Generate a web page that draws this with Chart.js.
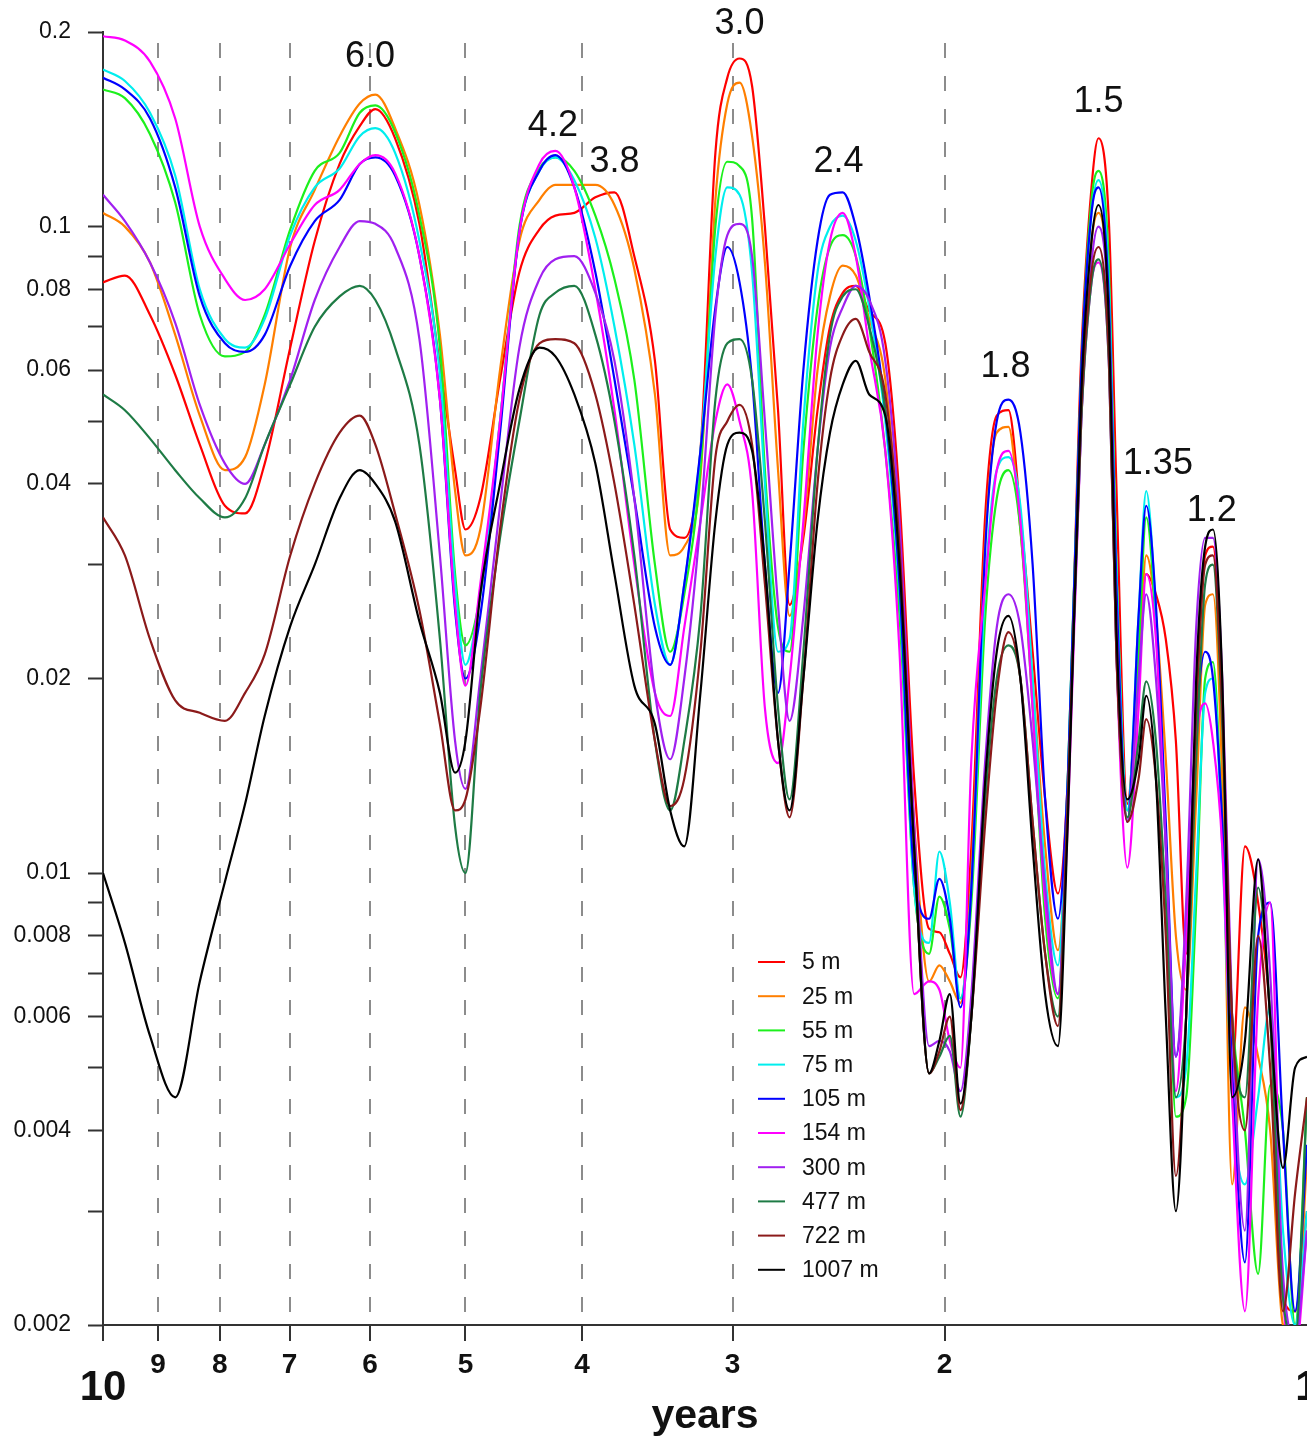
<!DOCTYPE html>
<html>
<head>
<meta charset="utf-8">
<title>Spectra by depth</title>
<script src="https://cdn.jsdelivr.net/npm/chart.js@4.4.1/dist/chart.umd.min.js"></script>
<style>
  html, body { margin: 0; padding: 0; background: #fff; }
  #wrap { width: 1307px; height: 1440px; }
</style>
</head>
<body>
<div id="wrap"><canvas id="spectra"></canvas></div>
<script>
// period (years) at which each depth's spectrum is sampled
const periods = [10, 9.59, 9.14, 8.71, 8.31, 7.92, 7.62, 7.34, 6.99, 6.67,
  6.36, 6.12, 5.94, 5.72, 5.46, 5.25, 5.10, 5.0, 4.86, 4.68,
  4.51, 4.34, 4.21, 4.06, 3.90, 3.76, 3.62, 3.48, 3.38, 3.29,
  3.19, 3.10, 3.03, 2.96, 2.89, 2.82, 2.75, 2.69, 2.62, 2.55,
  2.49, 2.43, 2.37, 2.31, 2.24, 2.18, 2.12, 2.06, 2.02, 1.98,
  1.94, 1.90, 1.85, 1.81, 1.77, 1.73, 1.69, 1.65, 1.61, 1.58,
  1.54, 1.51, 1.49, 1.46, 1.44, 1.41, 1.38, 1.36, 1.335, 1.31,
  1.285, 1.26, 1.236, 1.215, 1.197, 1.176, 1.154, 1.126, 1.098, 1.073,
  1.047, 1.023, 1.0];

const depthLabels = ['5 m', '25 m', '55 m', '75 m', '105 m', '154 m', '300 m', '477 m', '722 m', '1007 m'];
const depthColors = ['#ff0000', '#ff7f00', '#1cf01c', '#00eeee', '#0000ff', '#ff00ff', '#a020f0', '#1e7b45', '#8b1a1a', '#000000'];

const depth5 = [0.082, 0.084, 0.073, 0.059, 0.046, 0.037, 0.036, 0.043, 0.065, 0.095,
  0.125, 0.143, 0.152, 0.137, 0.101, 0.061, 0.042, 0.034, 0.038, 0.058,
  0.085, 0.099, 0.104, 0.105, 0.111, 0.113, 0.09, 0.062, 0.034, 0.033,
  0.045, 0.13, 0.17, 0.182, 0.165, 0.1, 0.052, 0.026, 0.033, 0.052,
  0.07, 0.079, 0.081, 0.074, 0.066, 0.038, 0.014, 0.0082, 0.0081, 0.0075,
  0.0069, 0.011, 0.036, 0.051, 0.052, 0.036, 0.022, 0.013, 0.0093, 0.014,
  0.063, 0.115, 0.137, 0.1, 0.04, 0.0128, 0.022, 0.029, 0.027, 0.023,
  0.016, 0.0075, 0.018, 0.031, 0.032, 0.018, 0.005, 0.011, 0.009, 0.006,
  0.0022, 0.0021, 0.003];

const depth25 = [0.105, 0.1, 0.088, 0.068, 0.051, 0.042, 0.044, 0.057, 0.093, 0.114,
  0.138, 0.155, 0.16, 0.142, 0.108, 0.068, 0.039, 0.031, 0.034, 0.06,
  0.095, 0.11, 0.116, 0.116, 0.116, 0.108, 0.086, 0.055, 0.031, 0.032,
  0.041, 0.11, 0.155, 0.167, 0.138, 0.088, 0.042, 0.025, 0.034, 0.06,
  0.078, 0.087, 0.084, 0.072, 0.058, 0.032, 0.012, 0.0068, 0.0072, 0.0068,
  0.0063, 0.01, 0.033, 0.048, 0.049, 0.034, 0.02, 0.011, 0.0076, 0.013,
  0.055, 0.095, 0.105, 0.075, 0.03, 0.012, 0.02, 0.031, 0.025, 0.015,
  0.008, 0.0066, 0.013, 0.026, 0.027, 0.014, 0.0033, 0.0062, 0.0052, 0.004,
  0.002, 0.0019, 0.0036];

const depth55 = [0.163, 0.158, 0.139, 0.109, 0.073, 0.063, 0.064, 0.073, 0.099, 0.122,
  0.13, 0.15, 0.154, 0.14, 0.104, 0.065, 0.029, 0.0225, 0.027, 0.05,
  0.1, 0.123, 0.128, 0.122, 0.104, 0.083, 0.058, 0.03, 0.022, 0.027,
  0.042, 0.1, 0.126, 0.124, 0.103, 0.042, 0.024, 0.022, 0.045, 0.075,
  0.093, 0.097, 0.09, 0.07, 0.045, 0.025, 0.0095, 0.0075, 0.0092, 0.0082,
  0.0064, 0.009, 0.025, 0.038, 0.042, 0.034, 0.018, 0.0085, 0.0064, 0.014,
  0.06, 0.11, 0.122, 0.085, 0.03, 0.0125, 0.022, 0.0355, 0.024, 0.011,
  0.0042, 0.0045, 0.009, 0.02, 0.0212, 0.012, 0.006, 0.004, 0.0024, 0.0047,
  0.004, 0.002, 0.0045];

const depth75 = [0.175, 0.168, 0.15, 0.12, 0.08, 0.067, 0.065, 0.072, 0.097, 0.115,
  0.123, 0.138, 0.142, 0.13, 0.095, 0.059, 0.028, 0.021, 0.027, 0.05,
  0.098, 0.122, 0.128, 0.118, 0.096, 0.07, 0.046, 0.026, 0.021, 0.028,
  0.045, 0.09, 0.115, 0.112, 0.085, 0.04, 0.022, 0.023, 0.05, 0.085,
  0.1, 0.104, 0.095, 0.075, 0.05, 0.027, 0.0095, 0.0078, 0.0108, 0.009,
  0.0064, 0.0095, 0.028, 0.042, 0.044, 0.037, 0.02, 0.01, 0.0072, 0.014,
  0.058, 0.105, 0.118, 0.08, 0.03, 0.0125, 0.025, 0.039, 0.025, 0.011,
  0.0045, 0.005, 0.01, 0.019, 0.02, 0.011, 0.0045, 0.0033, 0.0045, 0.0062,
  0.0028, 0.002, 0.003];

const depth105 = [0.17, 0.163, 0.147, 0.115, 0.078, 0.066, 0.064, 0.068, 0.087, 0.102,
  0.11, 0.125, 0.128, 0.12, 0.09, 0.054, 0.0255, 0.02, 0.025, 0.048,
  0.098, 0.122, 0.129, 0.115, 0.085, 0.058, 0.038, 0.024, 0.021, 0.028,
  0.045, 0.075, 0.093, 0.082, 0.058, 0.03, 0.019, 0.03, 0.06, 0.095,
  0.112, 0.113, 0.1, 0.078, 0.052, 0.028, 0.01, 0.0085, 0.0098, 0.0085,
  0.0062, 0.0095, 0.032, 0.05, 0.054, 0.048, 0.03, 0.013, 0.0085, 0.014,
  0.06, 0.105, 0.115, 0.075, 0.028, 0.012, 0.025, 0.037, 0.026, 0.012,
  0.0052, 0.008, 0.017, 0.022, 0.02, 0.012, 0.005, 0.0025, 0.008, 0.009,
  0.004, 0.0021, 0.0038];

const depth154 = [0.197, 0.194, 0.18, 0.147, 0.1, 0.083, 0.077, 0.08, 0.094, 0.108,
  0.114, 0.125, 0.129, 0.121, 0.09, 0.054, 0.026, 0.0195, 0.028, 0.05,
  0.098, 0.125, 0.131, 0.115, 0.08, 0.052, 0.03, 0.019, 0.0175, 0.024,
  0.035, 0.05, 0.057, 0.05, 0.039, 0.018, 0.0148, 0.02, 0.035, 0.068,
  0.095, 0.105, 0.09, 0.065, 0.045, 0.022, 0.0065, 0.0068, 0.0066, 0.0055,
  0.005, 0.015, 0.028, 0.042, 0.045, 0.035, 0.018, 0.009, 0.0065, 0.012,
  0.05, 0.082, 0.088, 0.06, 0.022, 0.0102, 0.018, 0.029, 0.023, 0.011,
  0.0046, 0.008, 0.016, 0.0183, 0.016, 0.011, 0.0045, 0.0021, 0.0064, 0.009,
  0.0022, 0.0018, 0.0028];

const depth300 = [0.112, 0.102, 0.088, 0.071, 0.053, 0.043, 0.04, 0.046, 0.058, 0.077,
  0.093, 0.102, 0.101, 0.093, 0.067, 0.031, 0.016, 0.0135, 0.02, 0.037,
  0.065, 0.083, 0.089, 0.09, 0.079, 0.062, 0.038, 0.019, 0.015, 0.02,
  0.035, 0.073, 0.097, 0.101, 0.09, 0.05, 0.026, 0.0172, 0.025, 0.045,
  0.065, 0.075, 0.081, 0.077, 0.062, 0.035, 0.012, 0.0054, 0.0055, 0.0053,
  0.0046, 0.0065, 0.015, 0.024, 0.027, 0.024, 0.016, 0.0095, 0.0065, 0.013,
  0.05, 0.088, 0.1, 0.07, 0.025, 0.012, 0.02, 0.027, 0.02, 0.011,
  0.0052, 0.009, 0.024, 0.033, 0.033, 0.02, 0.006, 0.0028, 0.0105, 0.007,
  0.0024, 0.0019, 0.0028];

const depth477 = [0.055, 0.052, 0.047, 0.042, 0.038, 0.0355, 0.038, 0.046, 0.057, 0.07,
  0.078, 0.081, 0.077, 0.065, 0.046, 0.023, 0.0118, 0.01, 0.019, 0.033,
  0.05, 0.073, 0.079, 0.081, 0.068, 0.05, 0.031, 0.016, 0.0125, 0.016,
  0.025, 0.054, 0.066, 0.067, 0.058, 0.035, 0.018, 0.013, 0.022, 0.045,
  0.068, 0.078, 0.08, 0.07, 0.052, 0.03, 0.011, 0.0049, 0.0052, 0.0056,
  0.0042, 0.006, 0.013, 0.02, 0.0225, 0.02, 0.012, 0.0075, 0.006, 0.013,
  0.05, 0.082, 0.089, 0.06, 0.022, 0.0122, 0.016, 0.0198, 0.016, 0.009,
  0.0045, 0.006, 0.015, 0.028, 0.03, 0.017, 0.006, 0.0045, 0.0095, 0.006,
  0.0022, 0.0019, 0.0045];

const depth722 = [0.0355, 0.031, 0.023, 0.0185, 0.0177, 0.0172, 0.019, 0.0218, 0.031, 0.04,
  0.048, 0.051, 0.046, 0.036, 0.0255, 0.017, 0.0125, 0.013, 0.018, 0.034,
  0.054, 0.066, 0.067, 0.066, 0.055, 0.04, 0.026, 0.016, 0.0127, 0.014,
  0.022, 0.044, 0.05, 0.053, 0.046, 0.028, 0.016, 0.0122, 0.02, 0.04,
  0.058, 0.068, 0.072, 0.064, 0.055, 0.032, 0.011, 0.0049, 0.0053, 0.006,
  0.0043, 0.006, 0.012, 0.019, 0.0236, 0.02, 0.012, 0.0075, 0.0058, 0.013,
  0.052, 0.085, 0.093, 0.062, 0.022, 0.012, 0.014, 0.0173, 0.014, 0.008,
  0.0034, 0.006, 0.018, 0.03, 0.031, 0.018, 0.006, 0.004, 0.008, 0.005,
  0.0021, 0.0032, 0.0045];

const depth1007 = [0.01, 0.0078, 0.0056, 0.0045, 0.0068, 0.0097, 0.0128, 0.0175, 0.0241, 0.03,
  0.038, 0.042, 0.04, 0.035, 0.0245, 0.019, 0.0143, 0.016, 0.027, 0.04,
  0.056, 0.065, 0.063, 0.055, 0.043, 0.029, 0.0195, 0.017, 0.0125, 0.011,
  0.019, 0.035, 0.046, 0.048, 0.045, 0.03, 0.016, 0.0125, 0.02, 0.035,
  0.048, 0.057, 0.062, 0.055, 0.051, 0.03, 0.011, 0.0049, 0.0055, 0.0065,
  0.0044, 0.006, 0.014, 0.022, 0.025, 0.02, 0.011, 0.0065, 0.0054, 0.012,
  0.055, 0.095, 0.108, 0.07, 0.024, 0.013, 0.015, 0.0188, 0.014, 0.006,
  0.003, 0.006, 0.02, 0.032, 0.034, 0.02, 0.0045, 0.0055, 0.0105, 0.006,
  0.0035, 0.005, 0.0052];

const spectra = [depth5, depth25, depth55, depth75, depth105, depth154, depth300, depth477, depth722, depth1007];

// axis ticks
const yTicks = [0.002, 0.003, 0.004, 0.005, 0.006, 0.007, 0.008, 0.009, 0.01,
  0.02, 0.03, 0.04, 0.05, 0.06, 0.07, 0.08, 0.09, 0.1, 0.2];
const yTickLabels = ['0.002', '0.004', '0.006', '0.008', '0.01', '0.02', '0.04', '0.06', '0.08', '0.1', '0.2'];
const xTicks = [10, 9, 8, 7, 6, 5, 4, 3, 2];

// peak periods written above the spectra
const peakText = ['6.0', '4.2', '3.8', '3.0', '2.4', '1.8', '1.5', '1.35', '1.2'];
const peakAtPeriod = [6.0, 4.23, 3.76, 2.96, 2.45, 1.78, 1.49, 1.33, 1.2];
const peakAtPower = [0.183, 0.143, 0.126, 0.206, 0.126, 0.0606, 0.156, 0.0429, 0.0363];

const FONT = '"Liberation Sans", Arial, Helvetica, sans-serif';

const extras = {
  id: 'extras',
  afterDraw(chart) {
    const { ctx, scales: { x, y }, chartArea } = chart;
    ctx.save();
    ctx.fillStyle = '#111';
    ctx.textAlign = 'center';
    ctx.textBaseline = 'middle';

    ctx.font = '36px ' + FONT;
    peakText.forEach((t, i) => {
      ctx.fillText(t, x.getPixelForValue(peakAtPeriod[i]), y.getPixelForValue(peakAtPower[i]));
    });

    // end labels of the period axis and its title
    ctx.font = 'bold 42px ' + FONT;
    ctx.fillText('10', x.getPixelForValue(10), chartArea.bottom + 63);
    ctx.fillText('1', x.getPixelForValue(1), chartArea.bottom + 63);
    ctx.font = 'bold 41px ' + FONT;
    ctx.fillText('years', (chartArea.left + chartArea.right) / 2, chartArea.bottom + 92);

    // legend
    const lx = 758, ly = 962, step = 34.2;
    ctx.font = '23px ' + FONT;
    ctx.textAlign = 'left';
    chart.data.datasets.forEach((ds, i) => {
      const yy = ly + i * step;
      ctx.strokeStyle = ds.borderColor;
      ctx.lineWidth = 2;
      ctx.beginPath();
      ctx.moveTo(lx, yy);
      ctx.lineTo(lx + 27, yy);
      ctx.stroke();
      ctx.fillText(ds.label, lx + 44, yy + 1);
    });
    ctx.restore();
  }
};

new Chart(document.getElementById('spectra'), {
  type: 'line',
  data: {
    datasets: spectra.map((vals, i) => ({
      label: depthLabels[i],
      data: periods.map((p, k) => ({ x: p, y: vals[k] })),
      borderColor: depthColors[i],
      borderWidth: 2.2,
      pointRadius: 0,
      fill: false,
      cubicInterpolationMode: 'monotone',
      order: spectra.length - 1 - i
    }))
  },
  options: {
    responsive: true,
    maintainAspectRatio: false,
    devicePixelRatio: 1,
    animation: false,
    events: [],
    layout: { padding: { top: 32, right: 0, bottom: 0, left: 0 } },
    plugins: { legend: { display: false }, tooltip: { enabled: false } },
    scales: {
      x: {
        type: 'logarithmic',
        reverse: true,
        min: 1,
        max: 10,
        afterBuildTicks: (s) => { s.ticks = xTicks.map(v => ({ value: v })); },
        afterFit: (s) => { s.height = 115; },
        ticks: {
          autoSkip: false,
          maxRotation: 0,
          padding: 7,
          color: '#111',
          font: { family: FONT, size: 28, weight: 'bold' },
          callback: (v) => (v === 10 ? '' : String(v))
        },
        grid: {
          color: (c) => (c.tick && c.tick.value === 10 ? 'rgba(0,0,0,0)' : '#8c8c8c'),
          lineWidth: 2,
          drawTicks: true,
          tickLength: 16,
          tickColor: '#333',
          tickWidth: 2,
          tickBorderDash: []
        },
        border: { display: true, color: '#333', width: 2, dash: [15, 18], dashOffset: 22 }
      },
      y: {
        type: 'logarithmic',
        min: 0.002,
        max: 0.2,
        afterBuildTicks: (s) => { s.ticks = yTicks.map(v => ({ value: v })); },
        afterFit: (s) => { s.width = 103; },
        ticks: {
          autoSkip: false,
          padding: 17,
          color: '#111',
          font: { family: FONT, size: 23 },
          callback: (v) => (yTickLabels.includes(String(v)) ? String(v) : '')
        },
        grid: {
          drawOnChartArea: false,
          drawTicks: true,
          tickLength: 15,
          color: '#333',
          tickColor: '#333',
          tickWidth: 2
        },
        border: { display: true, color: '#333', width: 2 }
      }
    }
  },
  plugins: [extras]
});
</script>
</body>
</html>
